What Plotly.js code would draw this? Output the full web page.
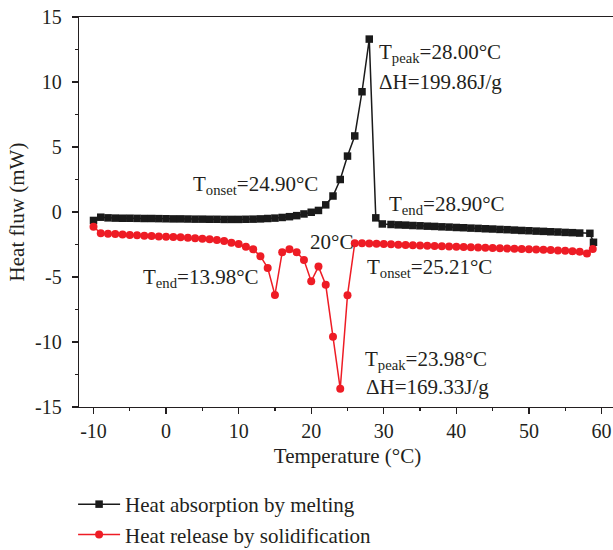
<!DOCTYPE html>
<html>
<head>
<meta charset="utf-8">
<script src="https://cdn.plot.ly/plotly-3.0.1.min.js"></script>
<style>
html,body{margin:0;padding:0;overflow:hidden;background:#fff;}
#chart{width:620px;height:550px;}
</style>
</head>
<body>
<div id="chart"></div>
<script>
// Heat absorption by melting (black squares)
const tMelt = [-10,-9,-8,-7,-6,-5,-4,-3,-2,-1,0,1,2,3,4,5,6,7,8,9,10,11,12,13,14,15,16,17,18,19,20,21,22,23,24,25,26,27,28,
  28.9,29.8,31,32,33,34,35,36,37,38,39,40,41,42,43,44,45,46,47,48,49,50,51,52,53,54,55,56,57,58.4,58.9];
const hMelt = [-0.65,-0.40,-0.45,-0.47,-0.48,-0.48,-0.49,-0.50,-0.50,-0.51,-0.52,-0.53,-0.53,-0.54,-0.55,-0.55,-0.56,-0.56,-0.57,-0.57,-0.57,-0.56,-0.55,-0.53,-0.50,-0.47,-0.42,-0.36,-0.28,-0.15,-0.02,0.12,0.55,1.23,2.50,4.30,5.85,9.25,13.30,
  -0.45,-0.92,-0.96,-0.99,-1.01,-1.04,-1.06,-1.09,-1.11,-1.14,-1.16,-1.19,-1.21,-1.24,-1.26,-1.29,-1.31,-1.34,-1.36,-1.39,-1.42,-1.44,-1.47,-1.49,-1.52,-1.54,-1.57,-1.59,-1.62,-1.64,-2.33];

// Heat release by solidification (red circles)
const tSolid = [-10,-9,-8,-7,-6,-5,-4,-3,-2,-1,0,1,2,3,4,5,6,7,8,9,10,11,12,13,14,15,16,17,18,19,20,21,22,23,24,25,
  26,27,28,29,30,31,32,33,34,35,36,37,38,39,40,41,42,43,44,45,46,47,48,49,50,51,52,53,54,55,56,57,58,58.8];
const hSolid = [-1.13,-1.64,-1.67,-1.70,-1.73,-1.76,-1.79,-1.82,-1.85,-1.88,-1.90,-1.92,-1.95,-1.98,-2.01,-2.05,-2.10,-2.15,-2.23,-2.36,-2.46,-2.67,-2.87,-3.40,-4.30,-6.38,-3.10,-2.87,-3.10,-3.70,-5.33,-4.20,-5.60,-9.60,-13.60,-6.40,
  -2.40,-2.41,-2.43,-2.45,-2.47,-2.49,-2.51,-2.53,-2.55,-2.57,-2.59,-2.61,-2.63,-2.65,-2.67,-2.69,-2.71,-2.73,-2.75,-2.77,-2.79,-2.81,-2.83,-2.85,-2.87,-2.89,-2.91,-2.93,-2.96,-2.98,-3.01,-3.05,-3.20,-2.85];

const seriesNames = ['Heat absorption by melting', 'Heat release by solidification'];
const xTicks = [-10,0,10,20,30,40,50,60];
const yTicks = [-15,-10,-5,0,5,10,15];

// Annotation labels
const labelTexts = [
  'T<sub>peak</sub>=28.00°C', 'ΔH=199.86J/g', 'T<sub>onset</sub>=24.90°C', 'T<sub>end</sub>=28.90°C',
  '20°C', 'T<sub>onset</sub>=25.21°C', 'T<sub>end</sub>=13.98°C', 'T<sub>peak</sub>=23.98°C', 'ΔH=169.33J/g'
];
const labelX = [29.1, 29.1, 3.5, 30.4, 19.6, 27.4, -3.4, 27.2, 27.3];
const labelY = [12.25, 10.0, 2.1, 0.56, -2.28, -4.3, -5.08, -11.36, -13.44];

const FONT = 'Liberation Serif, Times New Roman, serif';
const INK = '#231f20';

const traces = [
  {x: tMelt, y: hMelt, name: seriesNames[0], type: 'scatter', mode: 'lines+markers',
   line: {color: '#1a1a1a', width: 1.5},
   marker: {symbol: 'square', size: 7.5, color: '#1a1a1a'}},
  {x: tSolid, y: hSolid, name: seriesNames[1], type: 'scatter', mode: 'lines+markers',
   line: {color: '#ee1c25', width: 1.5},
   marker: {symbol: 'circle', size: 8, color: '#ee1c25'}}
];

const annotations = labelTexts.map((t, i) => ({
  text: t, x: labelX[i], y: labelY[i], xref: 'x', yref: 'y',
  xanchor: 'left', yanchor: 'middle', showarrow: false,
  font: {family: FONT, size: 21, color: INK}
}));

const axisCommon = {
  showline: true, linecolor: INK, linewidth: 1.3, mirror: true,
  ticks: 'outside', ticklen: 6, tickwidth: 1.3, tickcolor: INK,
  showgrid: false, zeroline: false,
  tickfont: {family: FONT, size: 20, color: INK}
};

const layout = {
  width: 620, height: 550,
  margin: {l: 79, r: 4, t: 17, b: 143},
  paper_bgcolor: '#fff', plot_bgcolor: '#fff',
  showlegend: true,
  xaxis: Object.assign({}, axisCommon, {
    range: [-12, 62], tickvals: xTicks, ticktext: xTicks.map(String),
    minor: {dtick: 5, tick0: -10, ticks: 'outside', ticklen: 3, tickwidth: 1.3, tickcolor: INK},
    title: {text: 'Temperature (°C)', font: {family: FONT, size: 21, color: INK}, standoff: 7}
  }),
  yaxis: Object.assign({}, axisCommon, {
    range: [-15, 15], tickvals: yTicks, ticktext: yTicks.map(String),
    ticklabelstandoff: 6,
    minor: {dtick: 2.5, tick0: 0, ticks: 'outside', ticklen: 3, tickwidth: 1.3, tickcolor: INK},
    title: {text: 'Heat fluw (mW)', font: {family: FONT, size: 21, color: INK}, standoff: 4}
  }),
  legend: {x: -0.011, y: 0.12, yref: 'container', xanchor: 'left', yanchor: 'top',
    font: {family: FONT, size: 21, color: INK}, bgcolor: 'rgba(0,0,0,0)', itemwidth: 42},
  annotations: annotations,
  font: {family: FONT, color: INK}
};

Plotly.newPlot('chart', traces, layout, {displayModeBar: false, staticPlot: true});
</script>
</body>
</html>
